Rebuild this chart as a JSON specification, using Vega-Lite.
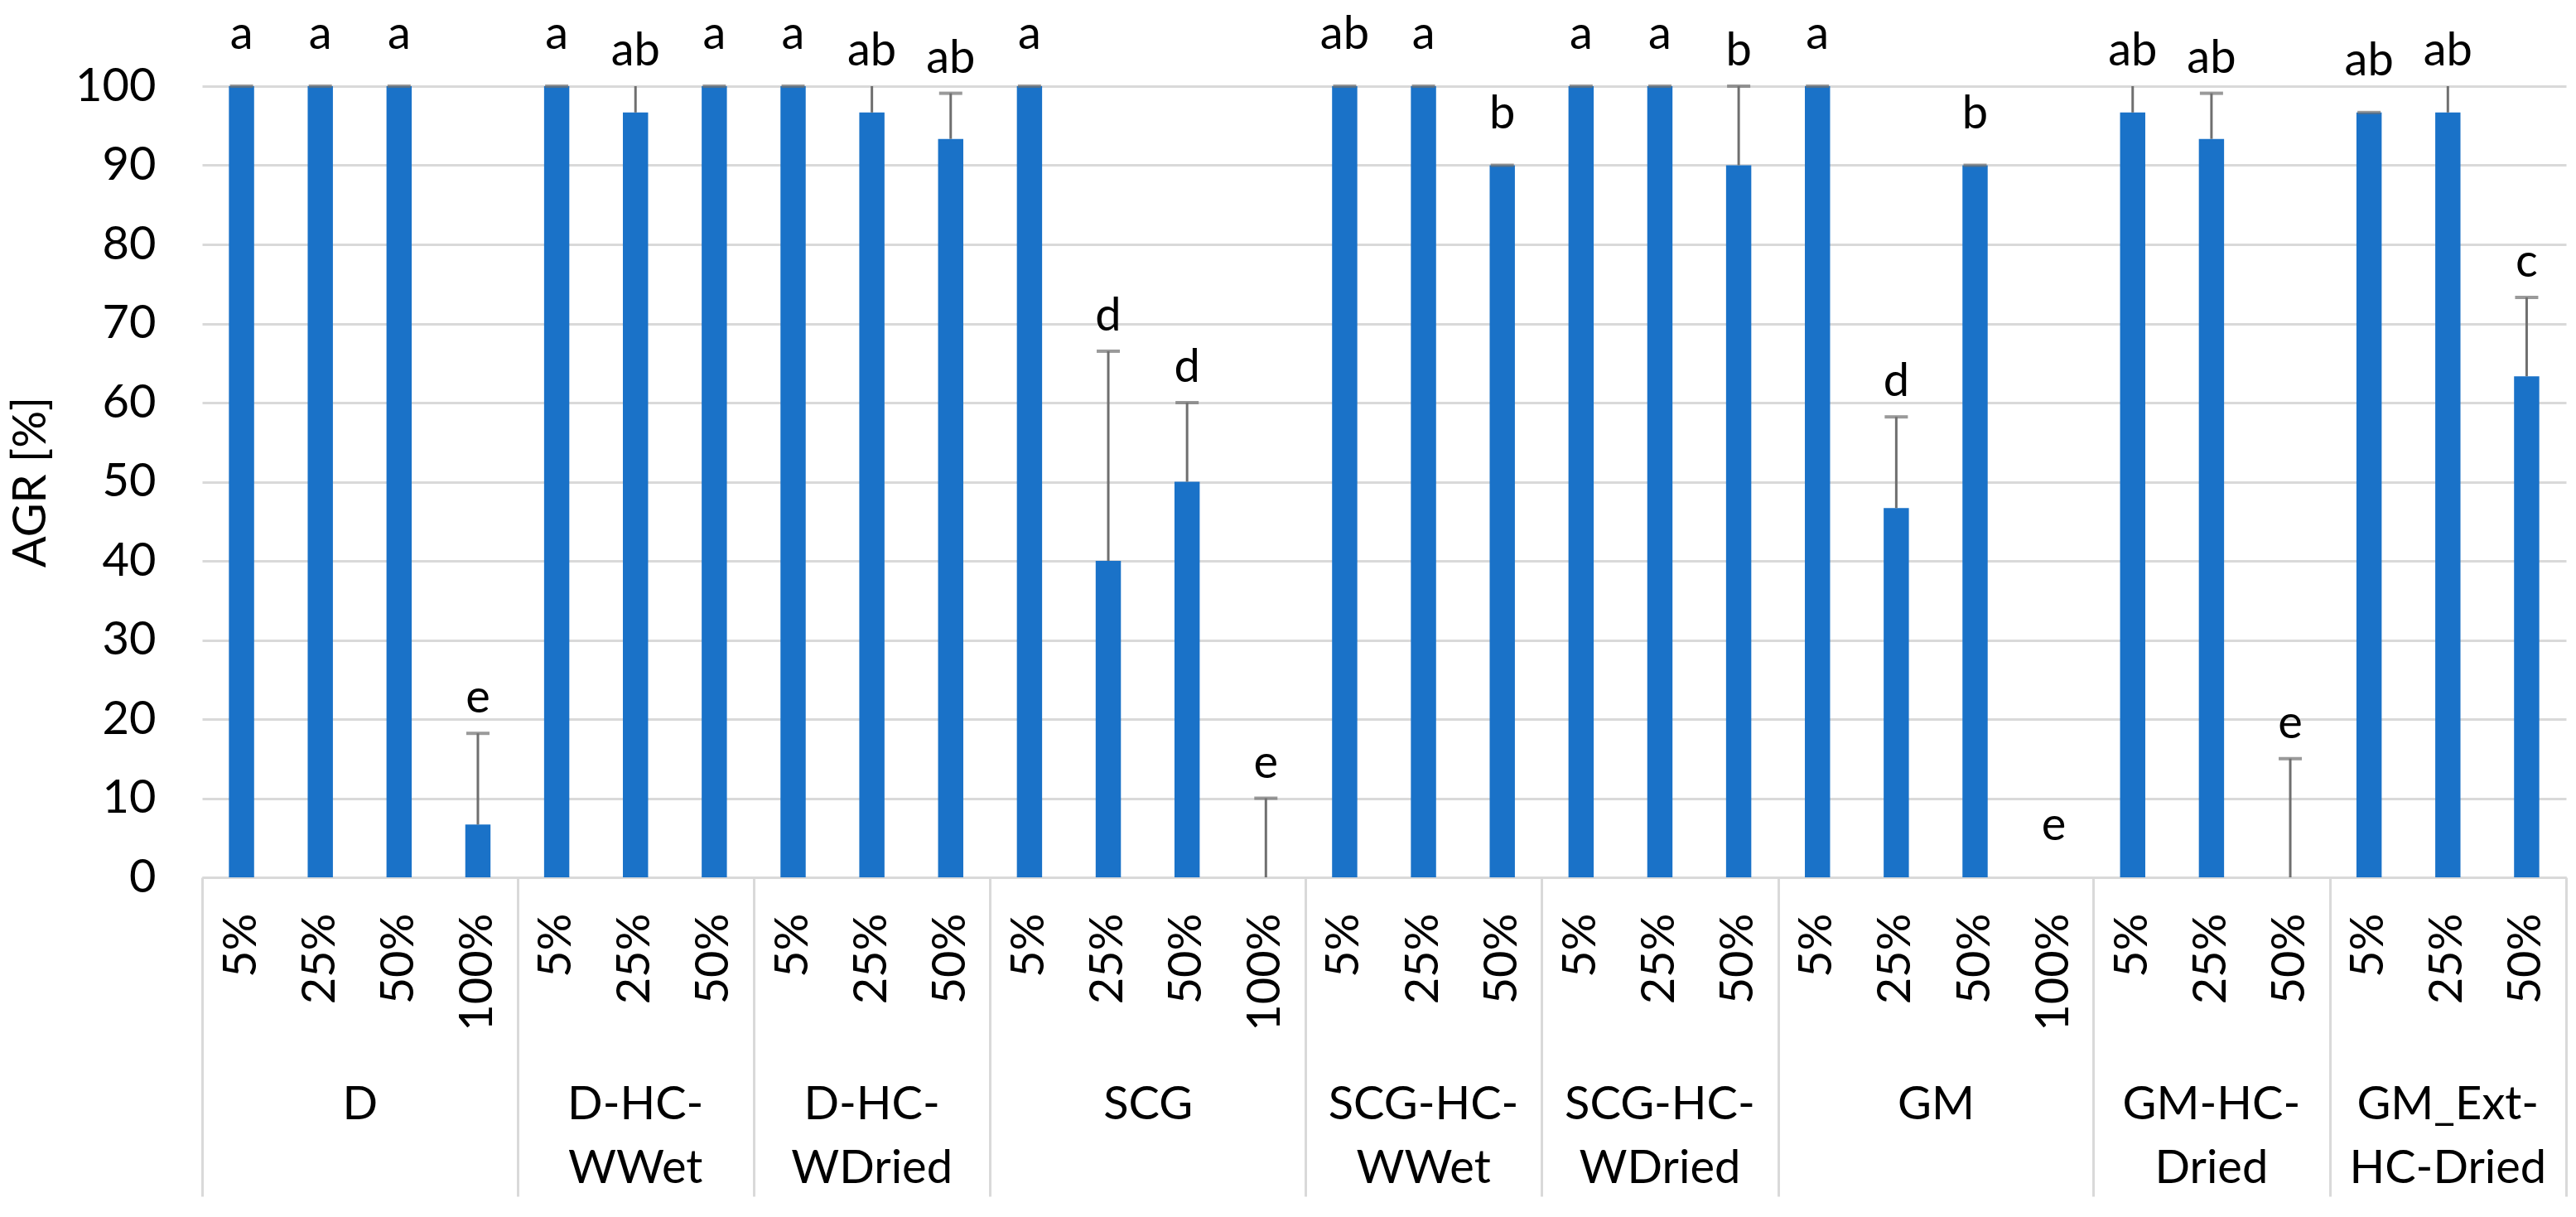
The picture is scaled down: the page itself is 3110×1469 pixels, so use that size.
{
  "$schema": "https://vega.github.io/schema/vega-lite/v6.json",
  "width": 2854,
  "height": 955,
  "autosize": {"type": "none"},
  "padding": {"left": 244, "top": 104, "right": 12, "bottom": 410},
  "background": "white",
  "config": {
    "font": "Lato",
    "view": {"stroke": null},
    "axis": {"labelColor": "#000000", "titleColor": "#000000", "labelOverlap": false},
    "axisY": {
      "grid": true, "gridColor": "#D9D9D9", "gridWidth": 3,
      "domain": false, "ticks": false, "tickCount": 10,
      "labelFontSize": 56, "labelPadding": 56,
      "titleFontSize": 56, "titleFontWeight": "normal", "titlePadding": 24
    }
  },
  "data": {
    "values": [
      {"key": "D|5%", "value": 100, "upper": 100, "sig": "a"},
      {"key": "D|25%", "value": 100, "upper": 100, "sig": "a"},
      {"key": "D|50%", "value": 100, "upper": 100, "sig": "a"},
      {"key": "D|100%", "value": 6.67, "upper": 18.2, "sig": "e"},
      {"key": "D-HC-WWet|5%", "value": 100, "upper": 100, "sig": "a"},
      {"key": "D-HC-WWet|25%", "value": 96.67, "upper": 102.4, "sig": "ab"},
      {"key": "D-HC-WWet|50%", "value": 100, "upper": 100, "sig": "a"},
      {"key": "D-HC-WDried|5%", "value": 100, "upper": 100, "sig": "a"},
      {"key": "D-HC-WDried|25%", "value": 96.67, "upper": 102.4, "sig": "ab"},
      {"key": "D-HC-WDried|50%", "value": 93.33, "upper": 99.1, "sig": "ab"},
      {"key": "SCG|5%", "value": 100, "upper": 100, "sig": "a"},
      {"key": "SCG|25%", "value": 40, "upper": 66.5, "sig": "d"},
      {"key": "SCG|50%", "value": 50, "upper": 60, "sig": "d"},
      {"key": "SCG|100%", "value": 0, "upper": 10, "sig": "e"},
      {"key": "SCG-HC-WWet|5%", "value": 100, "upper": 100, "sig": "ab"},
      {"key": "SCG-HC-WWet|25%", "value": 100, "upper": 100, "sig": "a"},
      {"key": "SCG-HC-WWet|50%", "value": 90, "upper": 90, "sig": "b"},
      {"key": "SCG-HC-WDried|5%", "value": 100, "upper": 100, "sig": "a"},
      {"key": "SCG-HC-WDried|25%", "value": 100, "upper": 100, "sig": "a"},
      {"key": "SCG-HC-WDried|50%", "value": 90, "upper": 100, "sig": "b"},
      {"key": "GM|5%", "value": 100, "upper": 100, "sig": "a"},
      {"key": "GM|25%", "value": 46.67, "upper": 58.2, "sig": "d"},
      {"key": "GM|50%", "value": 90, "upper": 90, "sig": "b"},
      {"key": "GM|100%", "value": 0, "upper": 0, "sig": "e"},
      {"key": "GM-HC-Dried|5%", "value": 96.67, "upper": 102.4, "sig": "ab"},
      {"key": "GM-HC-Dried|25%", "value": 93.33, "upper": 99.1, "sig": "ab"},
      {"key": "GM-HC-Dried|50%", "value": 0, "upper": 15, "sig": "e"},
      {"key": "GM_Ext-HC-Dried|5%", "value": 96.67, "upper": 96.67, "sig": "ab"},
      {"key": "GM_Ext-HC-Dried|25%", "value": 96.67, "upper": 102.4, "sig": "ab"},
      {"key": "GM_Ext-HC-Dried|50%", "value": 63.33, "upper": 73.3, "sig": "c"}
    ]
  },
  "layer": [
    {
      "mark": {"type": "bar", "color": "#1A72C8"},
      "encoding": {
        "x": {
          "field": "key", "type": "nominal", "sort": null,
          "scale": {
            "domain": ["D|5%", "D|25%", "D|50%", "D|100%", "D-HC-WWet|5%", "D-HC-WWet|25%", "D-HC-WWet|50%", "D-HC-WDried|5%", "D-HC-WDried|25%", "D-HC-WDried|50%", "SCG|5%", "SCG|25%", "SCG|50%", "SCG|100%", "SCG-HC-WWet|5%", "SCG-HC-WWet|25%", "SCG-HC-WWet|50%", "SCG-HC-WDried|5%", "SCG-HC-WDried|25%", "SCG-HC-WDried|50%", "GM|5%", "GM|25%", "GM|50%", "GM|100%", "GM-HC-Dried|5%", "GM-HC-Dried|25%", "GM-HC-Dried|50%", "GM_Ext-HC-Dried|5%", "GM_Ext-HC-Dried|25%", "GM_Ext-HC-Dried|50%"],
            "paddingInner": 0.68, "paddingOuter": 0.34
          },
          "axis": {
            "orient": "bottom", "title": null, "ticks": false, "grid": false,
            "domain": true, "domainColor": "#D9D9D9", "domainWidth": 3,
            "labelAngle": 270, "labelPadding": 43, "labelFontSize": 56, "labelLimit": 0,
            "labelExpr": "split(datum.label, '|')[1]"
          }
        },
        "y": {
          "field": "value", "type": "quantitative", "title": "AGR [%]",
          "scale": {"domain": [0, 100], "nice": false, "clamp": true}
        }
      }
    },
    {
      "mark": {"type": "rule", "color": "#6F6F6F", "strokeWidth": 3},
      "encoding": {
        "x": {
          "field": "key", "type": "nominal", "sort": null,
          "axis": {
            "orient": "bottom", "title": null,
            "values": ["D|5%", "D-HC-WWet|5%", "D-HC-WDried|5%", "SCG|5%", "SCG-HC-WWet|5%", "SCG-HC-WDried|5%", "GM|5%", "GM-HC-Dried|5%", "GM_Ext-HC-Dried|5%"],
            "tickOffset": -47.57, "ticks": true, "tickSize": 385, "tickColor": "#D9D9D9", "tickWidth": 3,
            "labels": false, "domain": false, "grid": false
          }
        },
        "y": {"field": "value", "type": "quantitative", "title": "AGR [%]"},
        "y2": {"field": "upper"}
      }
    },
    {
      "transform": [{"filter": "datum.upper <= 100 && datum.upper > 0"}],
      "mark": {"type": "tick", "color": "#6F6F6F", "thickness": 4, "size": 28},
      "encoding": {
        "x": {
          "field": "key", "type": "nominal", "sort": null,
          "axis": {
            "orient": "bottom", "title": null,
            "values": ["GM_Ext-HC-Dried|50%"],
            "tickOffset": 47.57, "ticks": true, "tickSize": 385, "tickColor": "#D9D9D9", "tickWidth": 3,
            "labels": false, "domain": false, "grid": false
          }
        },
        "y": {"field": "upper", "type": "quantitative", "title": "AGR [%]"}
      }
    },
    {
      "transform": [{"filter": "datum.upper <= datum.value"}],
      "mark": {"type": "text", "dy": -45, "fontSize": 56, "color": "#000000", "baseline": "alphabetic", "align": "center"},
      "encoding": {
        "x": {
          "field": "key", "type": "nominal", "sort": null,
          "axis": {
            "orient": "bottom", "title": null,
            "values": ["D-HC-WWet|25%", "D-HC-WDried|25%", "SCG-HC-WWet|25%", "SCG-HC-WDried|25%", "GM-HC-Dried|25%", "GM_Ext-HC-Dried|25%"],
            "ticks": false, "domain": false, "grid": false,
            "labelAngle": 0, "labelAlign": "center", "labelBaseline": "top",
            "labelPadding": 247, "labelLineHeight": 77, "labelFontSize": 56, "labelLimit": 0,
            "labelExpr": "indexof(datum.label, 'GM_Ext') == 0 ? [slice(datum.label, 0, 7), slice(datum.label, 7, indexof(datum.label, '|'))] : [slice(datum.label, 0, indexof(datum.label, 'HC-') + 3), slice(datum.label, indexof(datum.label, 'HC-') + 3, indexof(datum.label, '|'))]"
          }
        },
        "y": {"field": "value", "type": "quantitative", "title": "AGR [%]"},
        "text": {"field": "sig", "type": "nominal"}
      }
    },
    {
      "transform": [{"filter": "datum.upper > datum.value"}],
      "mark": {"type": "text", "dy": -25, "fontSize": 56, "color": "#000000", "baseline": "alphabetic", "align": "center"},
      "encoding": {
        "x": {
          "field": "key", "type": "nominal", "sort": null,
          "axis": {
            "orient": "bottom", "title": null,
            "values": ["D|50%", "SCG|50%", "GM|50%"],
            "tickOffset": -47.57,
            "ticks": false, "domain": false, "grid": false,
            "labelAngle": 0, "labelAlign": "center", "labelBaseline": "top",
            "labelPadding": 247, "labelLineHeight": 77, "labelFontSize": 56, "labelLimit": 0,
            "labelExpr": "split(datum.label, '|')[0]"
          }
        },
        "y": {"field": "upper", "type": "quantitative", "title": "AGR [%]"},
        "text": {"field": "sig", "type": "nominal"}
      }
    }
  ],
  "resolve": {"axis": {"x": "independent", "y": "shared"}}
}
